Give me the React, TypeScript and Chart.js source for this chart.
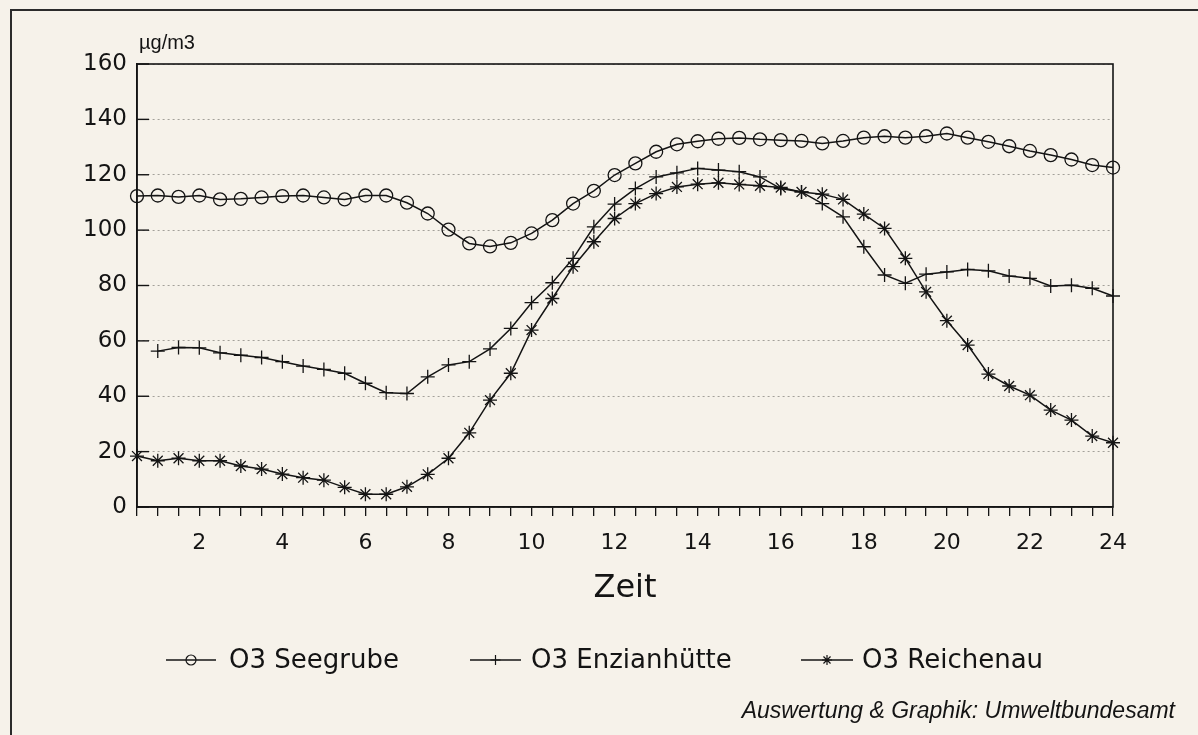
import React, { useEffect, useRef } from "react";
import { Chart, registerables } from "chart.js";

Chart.register(...registerables);

// ---- data ----
const hours = [
  0.5, 1, 1.5, 2, 2.5, 3, 3.5, 4, 4.5, 5, 5.5, 6, 6.5, 7, 7.5, 8, 8.5, 9, 9.5, 10,
  10.5, 11, 11.5, 12, 12.5, 13, 13.5, 14, 14.5, 15, 15.5, 16, 16.5, 17, 17.5, 18,
  18.5, 19, 19.5, 20, 20.5, 21, 21.5, 22, 22.5, 23, 23.5, 24,
];
const xTickLabels = [2, 4, 6, 8, 10, 12, 14, 16, 18, 20, 22, 24];
const yTicks = [0, 20, 40, 60, 80, 100, 120, 140, 160];

const seegrube = [
  112.3, 112.5, 112, 112.5, 111.1, 111.3, 111.8, 112.3, 112.5, 111.8, 111.1, 112.5,
  112.5, 109.9, 106, 100.2, 95.2, 94.1, 95.4, 98.8, 103.6, 109.6, 114.2, 119.9,
  124.1, 128.3, 131, 132.1, 133, 133.3, 132.8, 132.5, 132.2, 131.3, 132.2, 133.4,
  133.9, 133.4, 133.9, 134.9, 133.4, 131.9, 130.3, 128.6, 127.1, 125.5, 123.5, 122.6,
];
const enzian = [
  null, 56.3, 57.6, 57.5, 55.7, 54.8, 54.0, 52.5, 50.9, 49.7, 48.3, 44.7,
  41.3, 41.0, 47.0, 51.3, 52.5, 57.1, 64.5, 73.8, 81.0, 89.8, 101.2, 109.4,
  115.0, 119.2, 120.7, 122.3, 121.7, 121.1, 119.2, 115.0, 113.8, 109.6, 104.8, 94.0,
  83.8, 80.8, 84.1, 84.9, 85.8, 85.3, 83.4, 82.6, 79.8, 80.1, 79.0, 76.2,
];
const reichenau = [
  18.4, 16.7, 17.6, 16.7, 16.7, 14.8, 13.7, 11.9, 10.6, 9.7, 7.1, 4.6,
  4.6, 7.3, 11.8, 17.6, 26.8, 38.6, 48.3, 63.9, 75.3, 86.8, 95.8, 104.2,
  109.6, 113.2, 115.6, 116.6, 117.1, 116.5, 116.0, 115.4, 113.8, 113.0, 111.1, 105.8,
  100.6, 89.8, 77.7, 67.3, 58.5, 48.0, 43.7, 40.4, 35.0, 31.4, 25.6, 23.2,
];
const seriesLabels = ["O3 Seegrube", "O3 Enzianhütte", "O3 Reichenau"];
const unitLabel = "µg/m3";
const xTitle = "Zeit";
const footnote = "Auswertung & Graphik: Umweltbundesamt";

// ---- styling ----
const INK = "#141414";
const SANS = '"DejaVu Sans", "Liberation Sans", Arial, sans-serif';
const ARIAL = '"Liberation Sans", Arial, Helvetica, sans-serif';

function drawMarker(ctx: CanvasRenderingContext2D, style: string, x: number, y: number, r: number) {
  ctx.beginPath();
  if (style === "circle") {
    ctx.arc(x, y, r, 0, Math.PI * 2);
  } else if (style === "cross") {
    ctx.moveTo(x - r, y); ctx.lineTo(x + r, y);
    ctx.moveTo(x, y - r); ctx.lineTo(x, y + r);
  } else {
    const d = r * Math.SQRT1_2;
    ctx.moveTo(x - r, y); ctx.lineTo(x + r, y);
    ctx.moveTo(x, y - r); ctx.lineTo(x, y + r);
    ctx.moveTo(x - d, y - d); ctx.lineTo(x + d, y + d);
    ctx.moveTo(x - d, y + d); ctx.lineTo(x + d, y - d);
  }
  ctx.stroke();
}

const legendLayout = [
  { l: 166, r: 216, t: 229 },
  { l: 470, r: 521, t: 531 },
  { l: 801, r: 853, t: 862 },
];

const decorPlugin = {
  id: "decor",
  afterDraw(chart: any) {
    const { ctx, chartArea: a, scales } = chart;
    ctx.save();
    // outer frame
    ctx.strokeStyle = "#2b2b2b";
    ctx.lineWidth = 2;
    ctx.beginPath();
    ctx.moveTo(11, 735);
    ctx.lineTo(11, 10);
    ctx.lineTo(1198, 10);
    ctx.stroke();
    // plot frame
    ctx.strokeStyle = INK;
    ctx.lineWidth = 1.6;
    ctx.strokeRect(a.left, a.top, a.right - a.left, a.bottom - a.top);
    // inward y ticks
    ctx.lineWidth = 1.4;
    yTicks.forEach((v) => {
      const y = scales.y.getPixelForValue(v);
      ctx.beginPath();
      ctx.moveTo(a.left, y);
      ctx.lineTo(a.left + 12, y);
      ctx.stroke();
    });
    // unit
    ctx.fillStyle = INK;
    ctx.font = `20px ${ARIAL}`;
    ctx.textAlign = "left";
    ctx.textBaseline = "alphabetic";
    ctx.fillText(unitLabel, 139, 49);
    // legend
    const ly = 660;
    chart.data.datasets.forEach((ds: any, i: number) => {
      const p = legendLayout[i];
      ctx.strokeStyle = INK;
      ctx.lineWidth = 1.4;
      ctx.beginPath();
      ctx.moveTo(p.l, ly);
      ctx.lineTo(p.r, ly);
      ctx.stroke();
      ctx.lineWidth = 1.2;
      drawMarker(ctx, ds.pointStyle, (p.l + p.r) / 2, ly, 5);
      ctx.fillStyle = INK;
      ctx.font = `26px ${SANS}`;
      ctx.textAlign = "left";
      ctx.textBaseline = "middle";
      ctx.fillText(ds.label, p.t, ly + 1);
    });
    // footnote
    ctx.font = `italic 23px ${ARIAL}`;
    ctx.textAlign = "right";
    ctx.textBaseline = "middle";
    ctx.fillText(footnote, 1175, 712);
    ctx.restore();
  },
};

export default function App() {
  const ref = useRef<HTMLCanvasElement>(null);
  useEffect(() => {
    const prevMargin = document.body.style.margin;
    document.body.style.margin = "0";
    const common = {
      borderColor: INK,
      borderWidth: 1.5,
      tension: 0,
      pointBorderColor: INK,
      pointBackgroundColor: "rgba(0,0,0,0)",
      pointBorderWidth: 1.3,
      pointRadius: 7,
      fill: false,
    };
    const chart = new Chart(ref.current as HTMLCanvasElement, {
      type: "line",
      data: {
        labels: hours.map(String),
        datasets: [
          { ...common, label: seriesLabels[0], data: seegrube, pointStyle: "circle", pointRadius: 6.5 },
          { ...common, label: seriesLabels[1], data: enzian as any, pointStyle: "cross" },
          { ...common, label: seriesLabels[2], data: reichenau, pointStyle: "star" },
        ],
      },
      options: {
        animation: false,
        responsive: false,
        devicePixelRatio: 1,
        layout: { padding: { top: 64, right: 85, bottom: 118, left: 0 } },
        plugins: {
          legend: { display: false },
          tooltip: { enabled: false },
          title: { display: false },
        },
        scales: {
          x: {
            type: "category",
            offset: false,
            afterFit: (s: any) => { s.height = 110; },
            grid: {
              display: true,
              drawOnChartArea: false,
              drawTicks: true,
              tickLength: 9,
              color: INK,
              lineWidth: 1.3,
            },
            border: { display: true, color: INK, width: 1.6 },
            ticks: {
              autoSkip: false,
              maxRotation: 0,
              minRotation: 0,
              padding: 14,
              color: INK,
              font: { family: SANS, size: 22 },
              callback: (_v: any, idx: number) =>
                xTickLabels.includes(hours[idx]) ? String(hours[idx]) : "",
            },
            title: {
              display: true,
              text: xTitle,
              color: INK,
              font: { family: SANS, size: 32 },
              padding: { top: 0, bottom: 9 },
            },
          },
          y: {
            min: 0,
            max: 160,
            afterFit: (s: any) => { s.width = 137; },
            grid: {
              color: "#a3a09a",
              lineWidth: 1,
              drawTicks: false,
            },
            border: { display: true, color: INK, width: 1.6, dash: [2, 3] },
            ticks: {
              stepSize: 20,
              padding: 10,
              color: INK,
              font: { family: SANS, size: 23 },
            },
          },
        },
      },
      plugins: [decorPlugin],
    });
    return () => {
      chart.destroy();
      document.body.style.margin = prevMargin;
    };
  }, []);

  return (
    <div
      style={{
        position: "fixed",
        left: 0,
        top: 0,
        width: 1198,
        height: 735,
        background: "#f6f2ea",
      }}
    >
      <canvas ref={ref} width={1198} height={735} style={{ display: "block", width: 1198, height: 735 }} />
    </div>
  );
}
